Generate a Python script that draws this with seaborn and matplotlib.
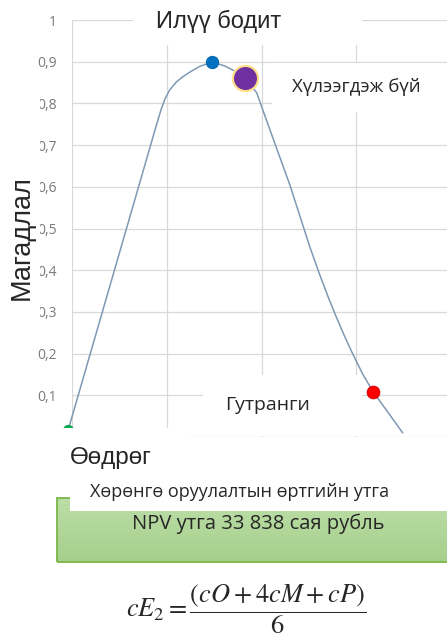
import matplotlib
matplotlib.use('Agg')
import matplotlib.pyplot as plt
from matplotlib.patches import Rectangle
import numpy as np
import seaborn as sns

# curve (x in grid units, y = probability)
curve_x = [-0.04, 0.90, 0.94, 0.98, 1.03, 1.10, 1.17, 1.25, 1.35, 1.48, 1.61,
           1.74, 1.83, 1.95, 2.09, 2.30, 2.51, 2.61, 2.70, 2.78, 2.87, 2.955,
           3.07, 3.18, 3.49]
curve_y = [0.017, 0.755, 0.785, 0.810, 0.832, 0.851, 0.864, 0.876, 0.889, 0.899,
           0.890, 0.875, 0.861, 0.825, 0.736, 0.604, 0.456, 0.392, 0.338, 0.293,
           0.245, 0.203, 0.150, 0.108, 0.01]

# highlighted scenario points
point_x = [-0.04, 1.48, 1.83, 3.18]
point_y = [0.017, 0.90, 0.861, 0.108]
point_colors = ['#00b050', '#0070c0', '#7030a0', '#ff0000']
point_edges = ['#00a04a', '#0062aa', '#ffe08a', '#d00000']
point_sizes = [55, 80, 330, 85]

y_ticks = [0.0, 0.1, 0.2, 0.3, 0.4, 0.5, 0.6, 0.7, 0.8, 0.9, 1.0]
y_tick_labels = ['', '0,1', '0,2', '0,3', '0,4', '0,5', '0,6', '0,7', '0,8', '0,9', '1']
x_ticks = [0, 1, 2, 3]

ARIAL = ['Liberation Sans', 'DejaVu Sans']
CALIBRI = ['Open Sans', 'Noto Sans', 'DejaVu Sans']

W, H = 447, 639

sns.set_theme(style='whitegrid', rc={'grid.color': '#d9d9d9', 'grid.linewidth': 0.9})
plt.rcParams['font.family'] = CALIBRI
plt.rcParams['mathtext.fontset'] = 'stix'

fig = plt.figure(figsize=(W / 100, H / 100), dpi=100)
fig.patch.set_facecolor('white')


def fx(px):
    return px / W


def fy(py):
    return 1 - py / H


def white_box(x0, y0, x1, y1, color='white', edge='none', lw=0, z=5):
    fig.add_artist(Rectangle((fx(x0), fy(y1)), fx(x1) - fx(x0), fy(y0) - fy(y1),
                             transform=fig.transFigure, facecolor=color,
                             edgecolor=edge, linewidth=lw, zorder=z))


ax = fig.add_axes([fx(72), fy(437), fx(447) - fx(72), fy(20) - fy(437)])
ax.set_facecolor('white')
for s in ax.spines.values():
    s.set_visible(False)

sns.lineplot(x=curve_x, y=curve_y, ax=ax, color='#7f98b4', linewidth=1.1, sort=False)
ax.lines[-1].set_clip_on(False)
ax.lines[-1].set_solid_joinstyle('round')
for x, y, c, e, s in zip(point_x, point_y, point_colors, point_edges, point_sizes):
    ax.scatter([x], [y], s=s, color=c, edgecolors=e,
               linewidths=1.6 if s > 100 else 0.6, zorder=4, clip_on=False)

ax.set_xlim(0, 375 / 94.75)
ax.set_ylim(0, 1)
ax.set_xticks(x_ticks)
ax.set_xticklabels([])
ax.set_yticks(y_ticks)
ax.set_yticklabels(y_tick_labels, color='#7a7a7a', fontsize=10)
ax.tick_params(axis='both', length=0)
ax.tick_params(axis='y', pad=11)
ax.set_xlabel('')
ax.set_ylabel('')

# overlay text boxes (pasted labels on top of the chart)
white_box(133, 0, 362, 45)
fig.text(fx(219), fy(21), 'Илүү бодит', family=ARIAL, fontsize=17,
         ha='center', va='center', zorder=6)

white_box(272, 63, 447, 112)
fig.text(fx(292), fy(87), 'Хүлээгдэж бүй', fontsize=13.5,
         ha='left', va='center', zorder=6)

white_box(203, 375, 362, 436)
fig.text(fx(225), fy(405), 'Гутранги', fontsize=14,
         ha='left', va='center', zorder=6)

white_box(0, 88, 40, 336)
fig.text(fx(22), fy(238), 'Магадлал', family=ARIAL, fontsize=19.5,
         rotation=90, ha='center', va='center', zorder=6)

white_box(40, 428, 187, 480)
fig.text(fx(70), fy(458), 'Өөдрөг', family=ARIAL, fontsize=17.5,
         ha='left', va='center', zorder=6)

# green result box with a soft vertical gradient
gax = fig.add_axes([fx(57), fy(562), fx(470) - fx(57), fy(498) - fy(562)], zorder=5)
grad = np.linspace(0, 1, 64).reshape(-1, 1)
gax.imshow(grad, aspect='auto', extent=(0, 1, 0, 1),
           cmap=matplotlib.colors.LinearSegmentedColormap.from_list('g', ['#bcdea8', '#a6cf8b']))
gax.set_axis_off()
white_box(57, 498, 470, 562, color='none', edge='#7ab648', lw=1.3, z=5.5)
white_box(70, 470, 470, 511, z=6)
fig.text(fx(90), fy(492), 'Хөрөнгө оруулалтын өртгийн утга', fontsize=13,
         ha='left', va='center', zorder=7)
fig.text(fx(258), fy(524), 'NPV утга 33 838 сая рубль', fontsize=14.5,
         ha='center', va='center', zorder=7)

fig.text(fx(246), fy(609), r'$cE_2 = \dfrac{(cO + 4cM + cP)}{6}$',
         fontsize=19, ha='center', va='center', zorder=7)

fig.savefig('out.png', dpi=100)
